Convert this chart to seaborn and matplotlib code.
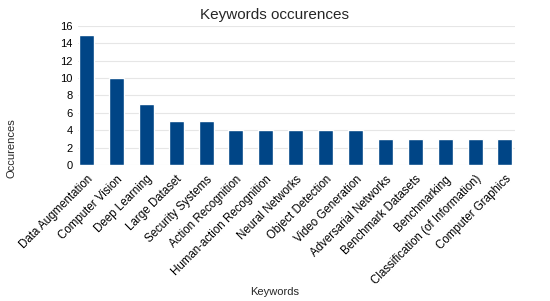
import matplotlib
matplotlib.use("Agg")
import matplotlib.pyplot as plt
import seaborn as sns
import pandas as pd

keywords = ["Data Augmentation", "Computer Vision", "Deep Learning", "Large Dataset",
            "Security Systems", "Action Recognition", "Human-action Recognition",
            "Neural Networks", "Object Detection", "Video Generation",
            "Adversarial Networks", "Benchmark Datasets", "Benchmarking",
            "Classification (of Information)", "Computer Graphics"]
counts = [15, 10, 7, 5, 5, 4, 4, 4, 4, 4, 3, 3, 3, 3, 3]

sns.set_style("white")
plt.rcParams['font.family'] = ['Liberation Sans', 'DejaVu Sans']

df = pd.DataFrame({"Keywords": keywords, "Occurences": counts})

fig = plt.figure(figsize=(5.5, 3.01), dpi=100)
ax = fig.add_axes([0.142, 0.452, 0.794, 0.462])
sns.barplot(data=df, x="Keywords", y="Occurences", color="#004586", width=0.5,
            saturation=1, ax=ax, zorder=3)
ax.set_ylim(0, 16)
ax.set_yticks(range(0, 17, 2))
ax.set_xlim(-0.28, 14.33)
ax.grid(axis="y", color="#e6e6e6", linewidth=0.8, zorder=0)
for s in ax.spines.values():
    s.set_visible(False)
ax.tick_params(axis="y", length=0, labelsize=8, pad=4, colors="black")
ax.tick_params(axis="x", length=0, labelsize=8.3, pad=6, colors="black")
plt.setp(ax.get_xticklabels(), rotation=45, ha="right", rotation_mode="anchor")
ax.set_xlabel("")
ax.set_ylabel("")
fig.text(0.5, 0.975, "Keywords occurences", ha="center", va="top", fontsize=11)
fig.text(0.5, 0.012, "Keywords", ha="center", va="bottom", fontsize=8)
fig.text(0.012, 0.508, "Occurences", ha="left", va="center", rotation=90, fontsize=8)
fig.savefig("out.png", dpi=100)
